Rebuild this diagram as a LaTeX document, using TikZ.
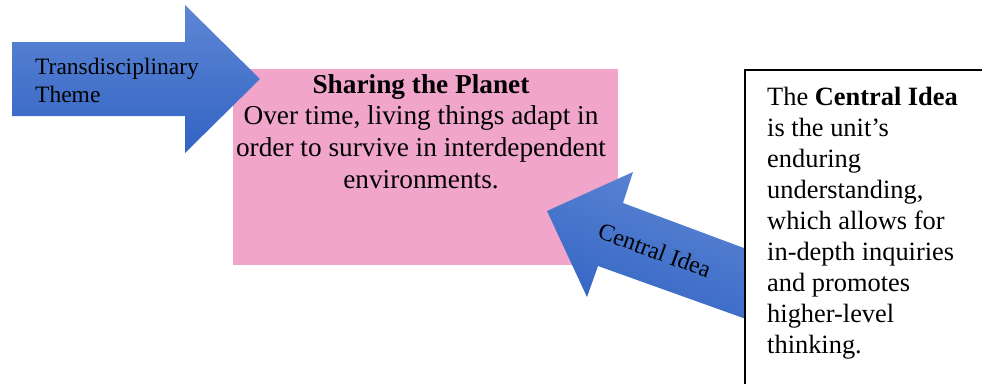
\documentclass[tikz,border=0pt]{standalone}
\usepackage{fontspec}
\setmainfont{Liberation Serif}
\definecolor{pinkfill}{RGB}{241,165,203}
\definecolor{arrowtop}{RGB}{94,134,212}
\definecolor{arrowbot}{RGB}{50,100,196}
\begin{document}
\begin{tikzpicture}[x=1pt,y=-1pt]
\tikzset{
  bluearrow/.style={top color=arrowtop, bottom color=arrowbot, draw=none},
  lbl/.style={inner sep=0pt, text=black},
}
\useasboundingbox (0,0) rectangle (982,383);
\clip (0,0) rectangle (982,383);
% pink central idea box
\fill[pinkfill] (233,69) rectangle (618,265);
% arrow 1 (transdisciplinary theme)
\path[bluearrow] (12,42) -- (185,42) -- (185,5) -- (260,79) -- (185,153) -- (185,116) -- (12,116) -- cycle;
% arrow 2 (central idea)
\path[bluearrow, shading angle=-20] (547,211) -- (633,172) -- (623,203) -- (760,254) -- (760,324) -- (598,266) -- (587,297) -- cycle;
% explanation box
\draw[line width=2pt, fill=white] (745,70) rectangle (1000,400);
% texts
\node[lbl, font=\fontsize{23.5}{28}\selectfont, align=left, anchor=north west] (theme) at (35,58) {Transdisciplinary\\Theme};
\node[lbl, font=\fontsize{27.3}{31.7}\selectfont, align=center, anchor=north] (planet) at (421,74) {\textbf{Sharing the Planet}\\Over time, living things adapt in\\order to survive in interdependent\\environments.};
\node[lbl, font=\fontsize{24}{28}\selectfont, rotate=-20, anchor=base] (cidea) at (652,258) {Central Idea};
\node[lbl, font=\fontsize{26.4}{31}\selectfont, align=left, anchor=north west] (desc) at (767,87) {The \textbf{Central Idea}\\is the unit’s\\enduring\\understanding,\\which allows for\\in-depth inquiries\\and promotes\\higher-level\\thinking.};
\end{tikzpicture}
\end{document}
